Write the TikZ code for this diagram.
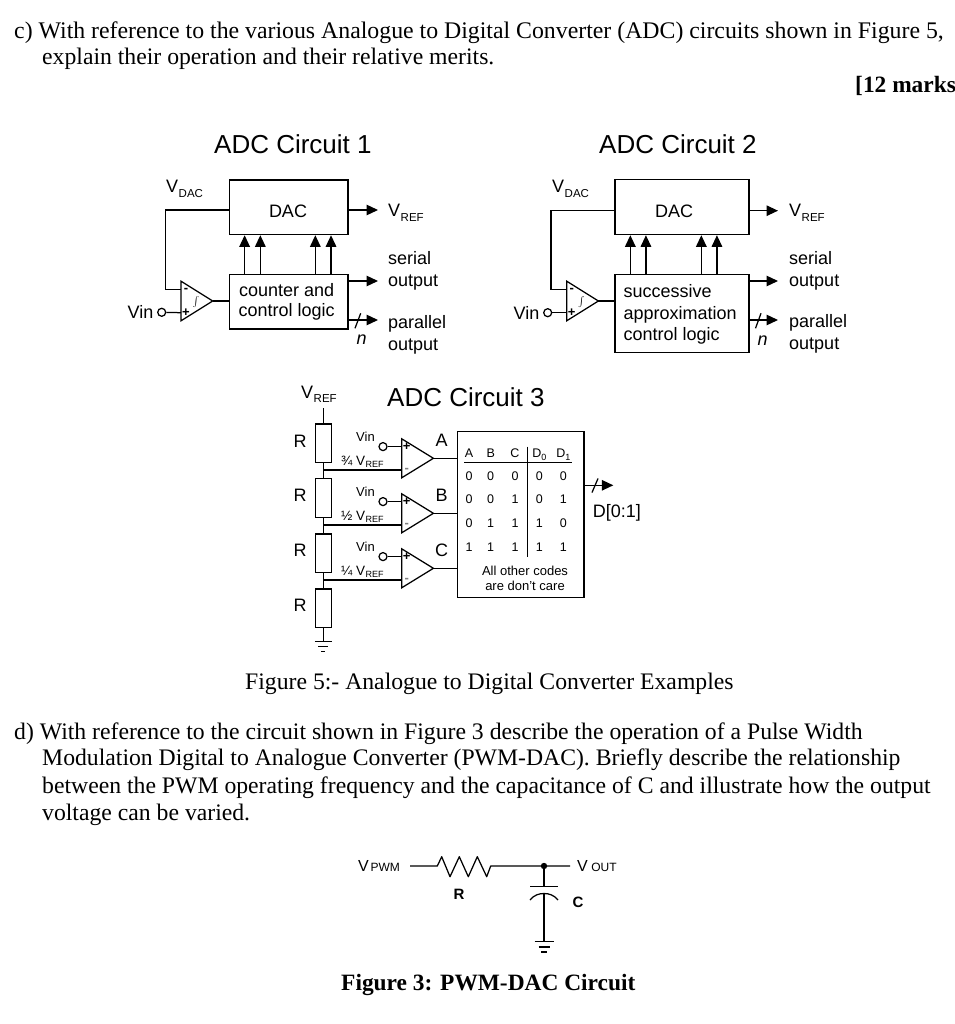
\documentclass[tikz,border=0pt]{standalone}
\usepackage{fontspec}
\setmainfont{Liberation Sans}
\newfontfamily\bodyserif{Liberation Serif}
\usetikzlibrary{arrows.meta,calc}
\newcommand{\fsz}[1]{\fontsize{#1}{#1}\selectfont}
\newcommand{\Vs}[1]{V{\kern.5pt\raisebox{-4.5pt}{\fsz{11.5}#1}}}
\newcommand{\Vss}[1]{V{\kern.3pt\raisebox{-2pt}{\fsz{9}#1}}}
% \opampat{name}{x left}{y centre}{half height}: triangle with named terminals
\newcommand{\opampat}[4]{%
  \coordinate (#1-a) at (#2,#3-#4);
  \coordinate (#1-b) at (#2,#3+#4);
  \coordinate (#1-out) at (#2+31.7,#3);
  \coordinate (#1-up) at (#2,#3-11.7);
  \coordinate (#1-lo) at (#2,#3+11.7);
  \draw[wire] (#1-a) -- (#1-out) -- (#1-b) -- cycle;
}
\tikzset{
  x=1pt,y=-1pt,
  wire/.style={line width=1.25pt,line cap=butt,line join=miter},
  arr/.style={wire,-{Triangle[length=11.5pt,width=10.5pt]}},
  box/.style={draw,line width=1.25pt,inner sep=0pt,anchor=north west,align=center},
  res/.style={draw,line width=1.25pt,inner sep=0pt,minimum width=16pt,minimum height=38.5pt,anchor=north},
  term/.style={circle,draw,line width=1.25pt,inner sep=0pt,minimum size=8pt},
  sgn/.style={inner sep=0pt,font=\bfseries\fsz{13}},
  lab/.style={inner sep=0pt,anchor=base,font=\fsz{18}},
  labw/.style={inner sep=0pt,anchor=base west,font=\fsz{18},align=left},
  title/.style={inner sep=0pt,anchor=base west,font=\fsz{26}},
  tbl/.style={inner sep=0pt,anchor=base,font=\fsz{12.5}},
  small/.style={inner sep=0pt,anchor=base,font=\fsz{13}},
  para/.style={inner sep=0pt,anchor=base west,font=\bodyserif\fsz{23.7}},
  parab/.style={inner sep=0pt,anchor=base west,font=\bodyserif\bfseries\fsz{23.4}},
}
\begin{document}
\begin{tikzpicture}
\useasboundingbox (0,0) rectangle (954,1024);
\fill[white] (0,0) rectangle (954,1024);

% ---- body text
\node[para,font=\bodyserif\fsz{23.8}] (t1) at (14,39) {c) With reference to the various Analogue to Digital Converter (ADC) circuits shown in Figure 5,};
\node[para] (t2) at (42,65) {explain their operation and their relative merits.};
\node[parab] (t3) at (855,93) {[12 marks};
\node[para] (cap5) at (245,689) {Figure 5:- Analogue to Digital Converter Examples};
\node[para] (d1) at (14,739) {d) With reference to the circuit shown in Figure 3 describe the operation of a Pulse Width};
\node[para] (d2) at (42,765) {Modulation Digital to Analogue Converter (PWM-DAC). Briefly describe the relationship};
\node[para] (d3) at (42,793) {between the PWM operating frequency and the capacitance of C and illustrate how the output};
\node[para] (d4) at (42,820) {voltage can be varied.};
\node[parab] (cap3) at (341,990) {Figure 3: PWM-DAC Circuit};

% ---- ADC circuit 1
\node[title] (tA) at (214,154) {ADC Circuit 1};
\node[box,minimum width=118.6pt,minimum height=54.7pt] (dacA) at (228.7,179.3) {};
\node[lab] (dacAt) at (288,217.5) {DAC};
\node[box,minimum width=118.6pt,minimum height=54.7pt,font=\fsz{18}] (logA) at (228.7,273.7) {\kern-4pt counter and\\[2pt]\kern-4pt control logic};
\opampat{opA}{181}{301}{19.8}
\node[term] (vinA) at (161.7,312.3) {};
\node[lab] (vinAt) at (140.5,318.5) {Vin};
\node[inner sep=0pt,font=\fsz{20}] (intA) at (196,302) {$\int$};
\node[sgn] (mA) at (186,290) {-};
\node[sgn] (pA) at (186,312.5) {+};
\node[labw] (vdacA) at (166,193) {\Vs{DAC}};
\node[labw] (vrefA) at (388,217) {\Vs{REF}};
\node[labw] (serA) at (388,264) {serial};
\node[labw] (soA) at (388,286) {output};
\node[labw] (parA) at (388,328) {parallel};
\node[labw] (poA) at (388,350) {output};
\node[lab,font=\itshape\fsz{18}] (nA) at (361.7,344) {n};
\coordinate (fbA1) at (165.7,210);
\coordinate (fbA2) at (165.7,289.3);
\coordinate (orA) at (378,210);
\coordinate (osA) at (378,281);
\coordinate (opA2) at (378,320);
\draw[wire] (dacA.west |- fbA1) -- (fbA1) -- (fbA2) -- (opA-up);
\draw[wire] (vinA) -- (opA-lo);
\draw[wire] (opA-out) -- (logA.west |- opA-out);
\draw[arr] (dacA.east |- orA) -- (orA);
\draw[arr] (logA.east |- osA) -- (osA);
\draw[arr] (logA.east |- opA2) -- (opA2);
\foreach \d in {-44,-28.3,26.7,42.4}
  \draw[arr] ([xshift=\d pt]logA.north) -- ([xshift=\d pt]dacA.south);
\coordinate (slA1) at (355,328.3); \coordinate (slA2) at (360.7,313.3);
\draw[wire] (slA1) -- (slA2);

% ---- ADC circuit 2
\node[title] (tB) at (599,154) {ADC Circuit 2};
\node[box,minimum width=134pt,minimum height=55pt] (dacB) at (614.3,179) {};
\node[lab] (dacBt) at (674,217.5) {DAC};
\node[box,minimum width=134pt,minimum height=78.3pt] (logB) at (614.3,273.7) {};
\node[labw] (lb1) at (623.5,297.5) {successive};
\node[labw] (lb2) at (623.5,319) {approximation};
\node[labw] (lb3) at (623.5,340) {control logic};
\opampat{opB}{566.7}{301}{19.8}
\node[term] (vinB) at (547.7,312.7) {};
\node[lab] (vinBt) at (526.5,319) {Vin};
\node[inner sep=0pt,font=\fsz{20}] (intB) at (581.5,302) {$\int$};
\node[sgn] (mB) at (571.7,290) {-};
\node[sgn] (pB) at (571.7,312.5) {+};
\node[labw] (vdacB) at (552,193) {\Vs{DAC}};
\node[labw] (vrefB) at (789,217) {\Vs{REF}};
\node[labw] (serB) at (789,264) {serial};
\node[labw] (soB) at (789,286) {output};
\node[labw] (parB) at (789,327) {parallel};
\node[labw] (poB) at (789,349) {output};
\node[lab,font=\itshape\fsz{18}] (nB) at (762.7,345) {n};
\coordinate (fbB1) at (551,210.7);
\coordinate (fbB2) at (551,289.3);
\coordinate (orB) at (778,210.7);
\coordinate (osB) at (778,281);
\coordinate (opB2) at (778,320);
\draw[wire] (dacB.west |- fbB1) -- (fbB1) -- (fbB2) -- (opB-up);
\draw[wire] (vinB) -- (opB-lo);
\draw[wire] (opB-out) -- (logB.west |- opB-out);
\draw[arr] (dacB.east |- orB) -- (orB);
\draw[arr] (logB.east |- osB) -- (osB);
\draw[arr] (logB.east |- opB2) -- (opB2);
\foreach \d in {-51.6,-36,19.4,35}
  \draw[arr] ([xshift=\d pt]logB.north) -- ([xshift=\d pt]dacB.south);
\coordinate (slB1) at (755.5,328.3); \coordinate (slB2) at (761,313.3);
\draw[wire] (slB1) -- (slB2);

% ---- ADC circuit 3
\node[title] (tC) at (387,406) {ADC Circuit 3};
\node[labw] (vrefC) at (301,398) {\Vs{REF}};
\node[res] (r1) at (323.3,423.3) {};
\node[res] (r2) at (323.3,478) {};
\node[res] (r3) at (323.3,533.3) {};
\node[res] (r4) at (323.3,588.3) {};
\node[lab] (rl1) at (300,447) {R};
\node[lab] (rl2) at (300,501) {R};
\node[lab] (rl3) at (300,556) {R};
\node[lab] (rl4) at (300,611) {R};
\coordinate (top) at (323.3,408.3);
\coordinate (gnd) at (323.3,641.7);
\draw[wire] (top) -- (r1.north);
\draw[wire] (r1.south) -- (r2.north);
\draw[wire] (r2.south) -- (r3.north);
\draw[wire] (r3.south) -- (r4.north);
\draw[wire] (r4.south) -- (gnd);
\draw[wire] ([xshift=-8.5pt]gnd) -- ([xshift=8.5pt]gnd);
\draw[wire] ([xshift=-5pt,yshift=-5pt]gnd) -- ([xshift=5pt,yshift=-5pt]gnd);
\draw[wire] ([xshift=-2pt,yshift=-10pt]gnd) -- ([xshift=2pt,yshift=-10pt]gnd);

\node[box,minimum width=126.6pt,minimum height=165.7pt] (tt) at (456.7,431) {};
\opampat{c1}{401.7}{458.3}{19.5}
\opampat{c2}{401.7}{513.3}{19.5}
\opampat{c3}{401.7}{568.3}{19.5}
\foreach \n/\yy/\f/\vy/\lb in {1/458.3/¾/441/A,2/513.3/½/496/B,3/568.3/¼/551/C}{
  \node[term] (v\n) at (383,\yy-11.7) {};
  \node[small] (vt\n) at (365.5,\vy) {Vin};
  \node[sgn] (cp\n) at (406.7,\yy-11.7) {+};
  \node[sgn,text=gray] (cm\n) at (406.7,\yy+11.7) {-};
  \node[lab] (cl\n) at (441.7,\yy-11.5) {\lb};
  \node[inner sep=0pt,anchor=base west,font=\fsz{13.5}] (fr\n) at (341,\yy+7.5) {\f\ \Vss{REF}};
  \draw[wire] (v\n) -- (c\n-up);
  \draw[wire] (c\n-out) -- (tt.west |- c\n-out);
  \draw[wire] (323.3,\yy+11.7) -- (c\n-lo);
}
% truth table
\foreach \x/\s in {469/A,490.7/B,515/C}
  \node[tbl] at (\x,457.5) {\s};
\node[tbl] (hd0) at (539.3,457.5) {D{\raisebox{-2.5pt}{\fsz{9}0}}};
\node[tbl] (hd1) at (563.3,457.5) {D{\raisebox{-2.5pt}{\fsz{9}1}}};
\foreach \yy/\a/\b/\c/\dz/\du in {480.2/0/0/0/0/0,503.8/0/0/1/0/1,527.2/0/1/1/1/0,551.2/1/1/1/1/1}{
  \node[tbl] at (469,\yy) {\a};
  \node[tbl] at (490.7,\yy) {\b};
  \node[tbl] at (515,\yy) {\c};
  \node[tbl] at (539.3,\yy) {\dz};
  \node[tbl] at (563.3,\yy) {\du};
}
\coordinate (hl1) at (464.3,462.3); \coordinate (hl2) at (571.7,462.3);
\coordinate (vl1) at (527.7,446.7); \coordinate (vl2) at (527.7,556.7);
\draw[line width=1pt] (hl1) -- (hl2);
\draw[line width=1pt] (vl1) -- (vl2);
\node[small] (oc1) at (525,575) {All other codes};
\node[small] (oc2) at (525,590) {are don't care};
\coordinate (dout) at (613.3,485.3);
\draw[arr] (tt.east |- dout) -- (dout);
\coordinate (slC1) at (592,492.5); \coordinate (slC2) at (598,478.5);
\draw[wire] (slC1) -- (slC2);
\node[labw] (dl) at (592.7,517) {D[0:1]};

% ---- PWM DAC
\node[inner sep=0pt,anchor=base west] (vpwm) at (358,871) {{\fsz{16}V}\,{\fsz{12}PWM}};
\node[inner sep=0pt,anchor=base west] (vout) at (577,871) {{\fsz{16}V}\kern3.5pt{\fsz{12}OUT}};
\coordinate (pw0) at (410,866);
\coordinate (junc) at (544,866);
\coordinate (pw1) at (570,866);
\draw[wire,line join=round] (pw0) -- (437.3,866) -- (441.7,856.7) -- (450,876.7) -- (459.3,856.7) -- (468.3,876.7) -- (477.3,856.7) -- (486.7,876.7) -- (490.7,866) -- (junc) -- (pw1);
\fill (junc) circle (3.2pt);
\coordinate (cp1) at (544,886.7);
\coordinate (cp2) at (544,893.5);
\coordinate (cgnd) at (544,941.7);
\draw[wire] (junc) -- (cp1);
\draw[wire] ([xshift=-14pt]cp1) -- ([xshift=14pt]cp1);
\draw[wire] (530,900) .. controls (534,895) and (539,893.5) .. (cp2) .. controls (549,893.5) and (554,895) .. (558,900);
\draw[wire] (cp2) -- (cgnd);
\draw[wire] ([xshift=-9.5pt]cgnd) -- ([xshift=9.5pt]cgnd);
\draw[wire] ([xshift=-5.5pt,yshift=-5.3pt]cgnd) -- ([xshift=5.5pt,yshift=-5.3pt]cgnd);
\draw[wire] ([xshift=-3pt,yshift=-10.3pt]cgnd) -- ([xshift=3pt,yshift=-10.3pt]cgnd);
\node[lab,font=\bfseries\fsz{15}] (rp) at (459,899) {R};
\node[lab,font=\bfseries\fsz{15}] (cc) at (578,907) {C};
\end{tikzpicture}
\end{document}
